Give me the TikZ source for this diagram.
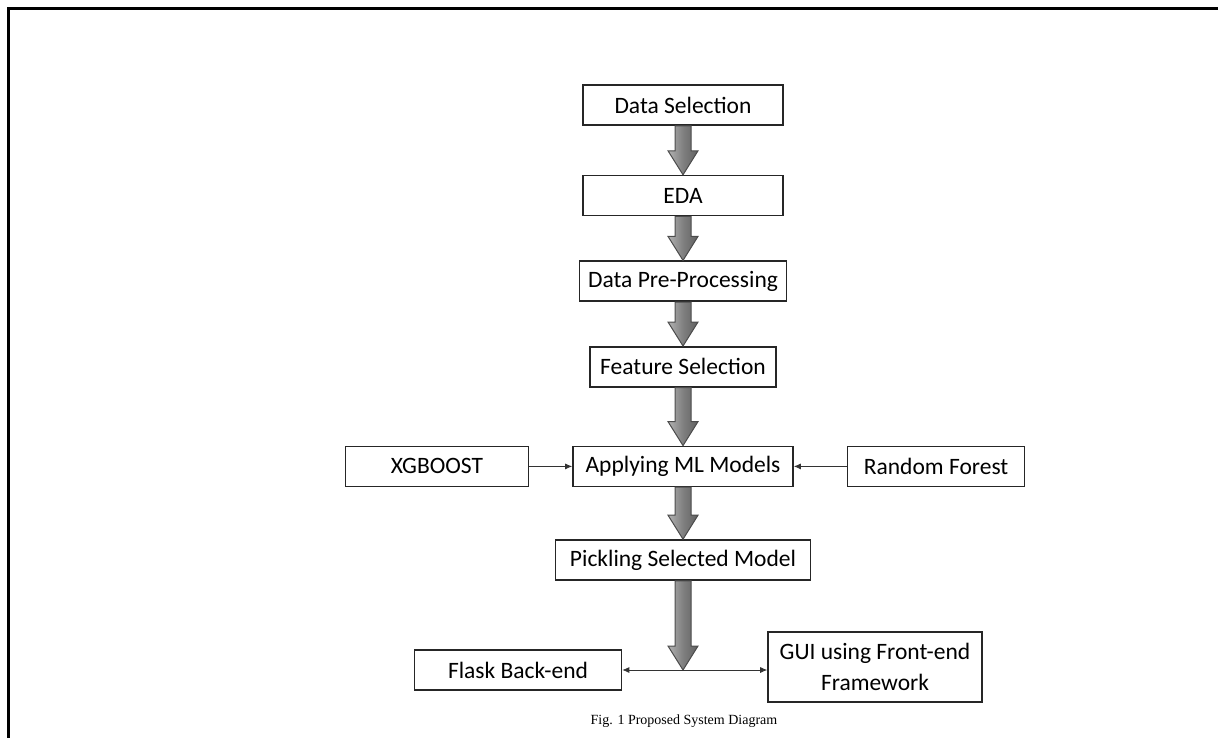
\documentclass[tikz,border=0pt]{standalone}
\usepackage{fontspec}
\setmainfont{Carlito}
\newfontfamily\captionfont{Liberation Serif}
\usetikzlibrary{arrows.meta, positioning, calc}

\begin{document}
\begin{tikzpicture}[
    x=1pt, y=1pt,
    node distance=44pt,
    box/.style={draw=black!85, line width=1.6pt, align=center, minimum width=200pt, minimum height=40pt, inner sep=1pt, font=\fontsize{23.5}{31}\selectfont},
    arrow/.style={-{Latex[length=7pt, width=6pt]}, line width=0.8pt, black!80},
    fat arrow/.style={draw=black!70, line width=1pt, left color=black!30, right color=black!62, middle color=black!50}
]
\useasboundingbox (0,0) rectangle (1218,-738);
% outer frame (cut off at right and bottom)
\draw[line width=3pt] (8,-738) -- (8,-9) -- (1218,-9);

\node[box] (select) at (683,-105) {Data Selection};
\node[box, below=49pt of select] (eda) {EDA};
\node[box, minimum width=207pt, below=of eda] (prep) {Data Pre-Processing};
\node[box, minimum width=186pt, below=of prep] (features) {Feature Selection};
\node[box, minimum width=220pt, below=58pt of features] (models) {Applying ML Models};
\node[box, minimum width=183pt, left=43pt of models] (xgb) {XGBOOST};
\node[box, minimum width=177pt, right=53pt of models] (forest) {Random Forest};
\node[box, minimum width=255pt, below=52pt of models] (pickle) {Pickling Selected Model};
\node[box, minimum width=207pt] (flask) at (518,-670) {Flask Back-end};
\node[box, minimum width=214pt, minimum height=70pt] (gui) at (875,-667) {GUI using Front-end\\Framework};
\node[font=\captionfont\fontsize{14}{16}\selectfont] (caption) at (684,-721) {Fig. 1 Proposed System Diagram};

% block arrows
\newcommand{\fatarrow}[2]{%
  \path[fat arrow] let \p1=(#1.south), \p2=(#2) in
    (\x1-8pt,\y1) -- (\x1+8pt,\y1) -- (\x1+8pt,\y2+24pt) -- (\x1+15pt,\y2+24pt)
    -- (\x1,\y2) -- (\x1-15pt,\y2+24pt) -- (\x1-8pt,\y2+24pt) -- cycle;}
\fatarrow{select}{eda.north}
\fatarrow{eda}{prep.north}
\fatarrow{prep}{features.north}
\fatarrow{features}{models.north}
\fatarrow{models}{pickle.north}
\coordinate (join) at (pickle.south |- flask.east);
\fatarrow{pickle}{join}

\draw[arrow] (xgb) -- (models);
\draw[arrow] (forest) -- (models);
\draw[arrow, {Latex[length=7pt, width=6pt]}-{Latex[length=7pt, width=6pt]}] (flask.east) -- (flask.east -| gui.west);
\end{tikzpicture}
\end{document}
